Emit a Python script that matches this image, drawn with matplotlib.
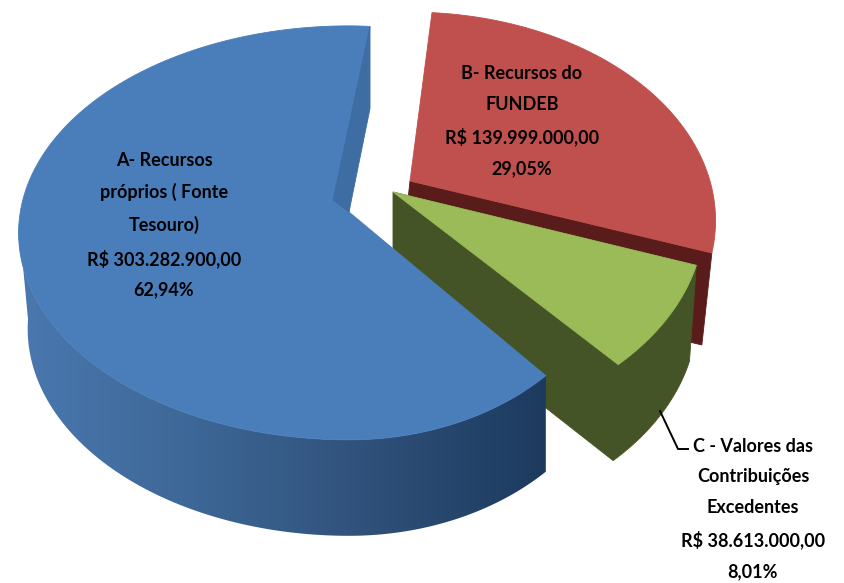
"""
Exploded 3D pie of the funding sources, drawn as polygons in pixel-like coordinates.
"""
import numpy as np
import matplotlib
matplotlib.use("Agg")
import matplotlib.pyplot as plt
from matplotlib.colors import LinearSegmentedColormap
from matplotlib.patches import Polygon

values = [303282900.00, 139999000.00, 38613000.00]
labels = [
    "A- Recursos\npróprios ( Fonte\nTesouro)\nR$ 303.282.900,00\n62,94%",
    "B- Recursos do\nFUNDEB\nR$ 139.999.000,00\n29,05%",
    "C - Valores das\nContribuições\nExcedentes\nR$ 38.613.000,00\n8,01%",
]
label_pos = [(164, 225), (522, 121), (753, 509)]
top_colors = ["#4A7EBB", "#C0504D", "#9BBB59"]

FIRST_EDGE = 5.0   # clockwise degrees from 12 o'clock, end of slice A / start of B
DEPTH = 96

spans = 360 * np.array(values) / sum(values)
b_start = FIRST_EDGE
b_end = b_start + spans[1]
c_end = b_end + spans[2]
a_end = c_end + spans[0]


def project(th, cx, cy, a_left, a_right, d, k, drop=0):
    th = np.radians(th)
    u, v = np.sin(th), -np.cos(th)
    w = 1 - k * v
    a = np.where(u < 0, a_left, a_right)
    return cx + a * u / w, cy + d * v / w + drop


def poly(ax, xs, ys, color):
    ax.fill(xs, ys, facecolor=color, edgecolor=color, linewidth=0.6)


fig = plt.figure(figsize=(8.44, 5.83), dpi=100)
ax = fig.add_axes([0, 0, 1, 1])

# B, red slice: cut wall first, C hides most of it
b_geo = dict(cx=410, cy=181, a_left=300, a_right=300, d=201, k=0.19)
th = np.linspace(b_start, b_end, 80)
bx, by = project(th, **b_geo)
poly(ax, [410, bx[-1], bx[-1] - 10, 400], [181, by[-1], by[-1] + 92, 181 + 92], "#5A1C1A")
poly(ax, np.r_[410, bx], np.r_[181, by], top_colors[1])

# C, green slice
c_geo = dict(cx=393, cy=192, a_left=309, a_right=309, d=210, k=0.12)
th = np.linspace(b_end, c_end, 40)
cx_top, cy_top = project(th, **c_geo)
low_geo = dict(c_geo, a_right=302, a_left=302)
cx_low, cy_low = project(th, drop=DEPTH, **low_geo)
poly(ax, np.r_[393, cx_top[0], cx_low, 393], np.r_[192, cy_top[0], cy_low, 192 + DEPTH], "#445426")
poly(ax, np.r_[393, cx_top], np.r_[192, cy_top], top_colors[2])

# A, blue slice: outer side with a left to right shade, clipped to the side band
a_geo = dict(cx=349, cy=208, a_left=328, a_right=270, d=204, k=0.12)
a_low = dict(a_geo, a_left=319)
shade = LinearSegmentedColormap.from_list("side", ["#4A78B0", "#3D6796", "#2F5079", "#1C3A5E"])
th = np.linspace(c_end, a_end, 300)
ax_top, ay_top = project(th, **a_geo)
ax_low, ay_low = project(th, drop=DEPTH, **a_low)
front = th < 266
band = Polygon(np.c_[np.r_[ax_top[front], ax_low[front][::-1]],
                     np.r_[ay_top[front], ay_low[front][::-1]]],
               transform=ax.transData, facecolor="none", edgecolor="none")
ax.add_patch(band)
grad = ax.imshow(np.linspace(0, 1, 256).reshape(1, -1), cmap=shade, aspect="auto",
                 extent=(15, 550, 540, 200), interpolation="bilinear", zorder=1)
grad.set_clip_path(band)
poly(ax, np.r_[349, ax_top], np.r_[212, ay_top], top_colors[0])
# cut wall seen through the gap
poly(ax, [ax_top[-1], ax_top[-1], 349, 333], [ay_top[-1], ay_top[-1] + 82, 212, 200], "#3E6DA3")

# leader line of C
ax.plot([660, 678, 688], [411, 449, 449], color="black", linewidth=1.4)

for label, (x, y) in zip(labels, label_pos):
    ax.text(x, y, label, ha="center", va="center", family="Lato",
            fontweight="bold", fontsize=13, color="black", linespacing=1.96)

ax.set_xlim(0, 844)
ax.set_ylim(583, 0)
ax.axis("off")
fig.savefig("out.png", dpi=100)
